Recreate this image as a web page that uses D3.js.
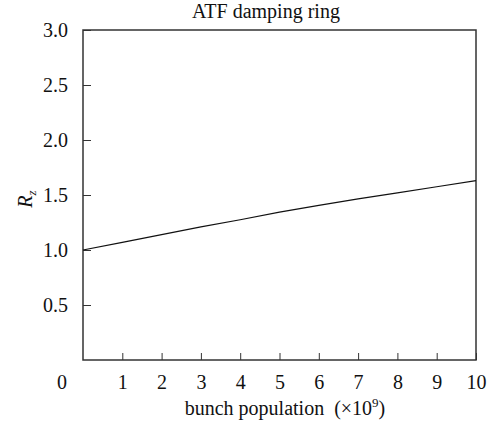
<!DOCTYPE html>
<html>
<head>
<meta charset="UTF-8">
<title>ATF damping ring</title>
<script src="https://d3js.org/d3.v7.min.js"></script>
<style>
  body { margin: 0; background: #fff; }
  svg text { font-family: "Liberation Serif", "DejaVu Serif", serif; }
  .tick text { font-size: 20px; fill: #111; }
</style>
</head>
<body>
<svg width="488" height="424"></svg>
<script>
  // bunch population (x10^9) and R_z
  const population = [0, 1, 2, 3, 4, 5, 6, 7, 8, 9, 10];
  const rz = [1.0, 1.07, 1.14, 1.21, 1.275, 1.345, 1.405, 1.465, 1.52, 1.575, 1.63];
  const xTicks = [1, 2, 3, 4, 5, 6, 7, 8, 9, 10];
  const yTicks = [0.5, 1.0, 1.5, 2.0, 2.5, 3.0];

  const svg = d3.select("svg");
  const margin = { top: 30, right: 12, bottom: 64, left: 83 };
  const width = 488 - margin.left - margin.right;
  const height = 424 - margin.top - margin.bottom;

  const g = svg.append("g").attr("transform", `translate(${margin.left},${margin.top})`);

  const x = d3.scaleLinear().domain([0, 10]).range([0, width]);
  const y = d3.scaleLinear().domain([0, 3]).range([height, 0]);

  // x axis, ticks pointing inward
  const xAxis = g.append("g")
    .attr("transform", `translate(0,${height})`)
    .call(d3.axisBottom(x).tickValues(xTicks).tickSize(-7).tickPadding(15).tickFormat(d3.format("d")));
  xAxis.attr("font-family", null).attr("font-size", null);
  xAxis.select(".domain").remove();
  xAxis.selectAll(".tick line").attr("stroke", "#333");

  const yAxis = g.append("g")
    .call(d3.axisLeft(y).tickValues(yTicks).tickSize(-8).tickPadding(15).tickFormat(d3.format(".1f")));
  yAxis.attr("font-family", null).attr("font-size", null);
  yAxis.select(".domain").remove();
  yAxis.selectAll(".tick line").attr("stroke", "#333");

  // origin label
  g.append("text")
    .attr("x", x(0) - 21)
    .attr("y", height + 29)
    .attr("text-anchor", "middle")
    .attr("font-size", 20)
    .attr("fill", "#111")
    .text("0");

  // frame
  g.append("rect")
    .attr("width", width)
    .attr("height", height)
    .attr("fill", "none")
    .attr("stroke", "#333")
    .attr("stroke-width", 1.5);

  const line = d3.line()
    .x((d, i) => x(population[i]))
    .y(d => y(d));

  g.append("path")
    .datum(rz)
    .attr("fill", "none")
    .attr("stroke", "#111")
    .attr("stroke-width", 1.2)
    .attr("d", line);

  // title
  svg.append("text")
    .attr("x", 266)
    .attr("y", 18)
    .attr("text-anchor", "middle")
    .attr("font-size", 20)
    .attr("fill", "#111")
    .text("ATF damping ring");

  // x label
  const xl = svg.append("text")
    .attr("x", 285)
    .attr("y", 415)
    .attr("text-anchor", "middle")
    .attr("font-size", 20)
    .attr("fill", "#111");
  xl.append("tspan").text("bunch population\u00a0 (\u00d710");
  xl.append("tspan").attr("dy", -8).attr("font-size", 13).text("9");
  xl.append("tspan").attr("dy", 8).text(")");

  // y label
  const yl = svg.append("text")
    .attr("transform", `translate(32,199) rotate(-90)`)
    .attr("text-anchor", "middle")
    .attr("font-size", 20)
    .attr("font-style", "italic")
    .attr("fill", "#111");
  yl.append("tspan").text("R");
  yl.append("tspan").attr("dy", 4).attr("font-size", 13).text("z");
</script>
</body>
</html>
